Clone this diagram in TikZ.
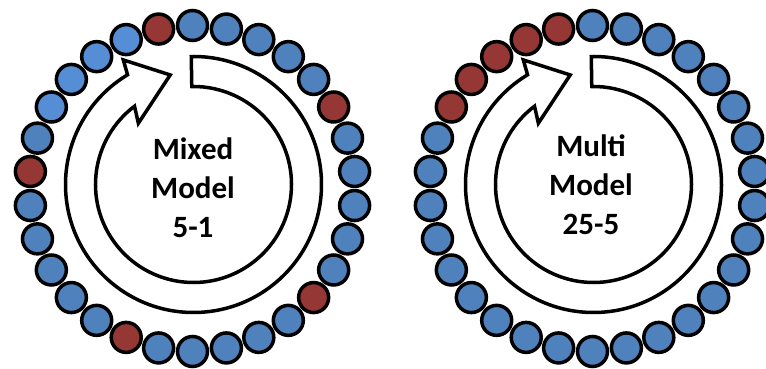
\documentclass[tikz,border=0pt]{standalone}
\usepackage{fontspec}
\setmainfont{Carlito}
\definecolor{beadblue}{RGB}{79,129,189}
\definecolor{beadlight}{RGB}{85,142,213}
\definecolor{beadred}{RGB}{149,55,53}
\tikzset{
    bead/.style =   {circle,
                    fill=beadblue,
                    draw=black,
                    line width=3.5pt,
                    inner sep=0pt,
                    minimum size=30pt},
    loop arrow/.style = {draw=black,
                    fill=white,
                    line width=3.5pt,
                    line join=miter},
    caption/.style = {align=center,
                    text=black,
                    font=\fontsize{31}{39}\selectfont\bfseries}
}

\begin{document}
\begin{tikzpicture}[x=1pt,y=1pt]
    \useasboundingbox (0,0) rectangle (766,369);

    % mixed model: one red bead after every five blue ones
    \begin{scope}[shift={(192.5,180.5)}]
        \foreach \i in {0,...,29} {
            \pgfmathsetmacro{\tone}{ifthenelse(mod(\i,6)==1,"beadred",ifthenelse(and(\i>1,\i<6),"beadlight","beadblue"))}
            \node[bead,fill=\tone] (L\i) at (90+12*\i:163) {};
        }
    \end{scope}
    \begin{scope}[shift={(193.5,184.5)}]
        \draw[loop arrow] (91:128) arc[start angle=91, end angle=-239, radius=128]
            -- (119.4:143) -- (102:112) -- (132:82.4) -- (127:98)
            arc[start angle=127, end angle=451, radius=98] -- cycle;
    \end{scope}
    \node[caption] (mixed) at (193,181) {Mixed\\Model\\5-1};

    % multi model: a block of five red beads, then twenty-five blue
    \begin{scope}[shift={(592.5,180.5)}]
        \foreach \i in {0,...,29} {
            \pgfmathsetmacro{\tone}{ifthenelse(and(\i>0,\i<6),"beadred","beadblue")}
            \node[bead,fill=\tone] (R\i) at (90+12*\i:163) {};
        }
    \end{scope}
    \begin{scope}[shift={(593.5,184.5)}]
        \draw[loop arrow] (91:128) arc[start angle=91, end angle=-239, radius=128]
            -- (119.4:143) -- (102:112) -- (132:82.4) -- (127:98)
            arc[start angle=127, end angle=451, radius=98] -- cycle;
    \end{scope}
    \node[caption] (multi) at (591,184) {Multi\\Model\\25-5};
\end{tikzpicture}
\end{document}
